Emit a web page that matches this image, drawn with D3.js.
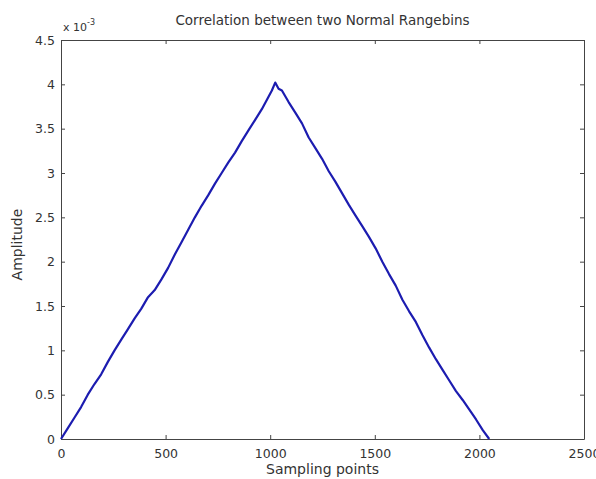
<!DOCTYPE html>
<html>
<head>
<meta charset="utf-8">
<script src="https://cdn.jsdelivr.net/npm/d3@7"></script>
<style>
  body { margin: 0; background: #fff; }
  text { font-family: "DejaVu Sans", Arial, sans-serif; fill: #333; }
</style>
</head>
<body>
<div id="chart"></div>
<script>
// sample index of the correlation lag
var samples = [0, 32, 64, 96, 128, 160, 192, 224, 256, 288, 320, 352, 384, 416, 448, 480,
  512, 544, 576, 608, 640, 672, 704, 736, 768, 800, 832, 864, 896, 928, 960, 992, 1008, 1024,
  1040, 1056, 1088, 1120, 1152, 1184, 1216, 1248, 1280, 1312, 1344, 1376, 1408, 1440, 1472,
  1504, 1536, 1568, 1600, 1632, 1664, 1696, 1728, 1760, 1792, 1824, 1856, 1888, 1920, 1952,
  1984, 2016, 2047];
// amplitude in units of 1e-3
var amplitude = [0.00, 0.12, 0.24, 0.36, 0.50, 0.62, 0.73, 0.87, 1.00, 1.12, 1.24, 1.36, 1.47, 1.60, 1.68, 1.80,
  1.93, 2.08, 2.22, 2.36, 2.50, 2.63, 2.75, 2.88, 3.00, 3.12, 3.23, 3.36, 3.48, 3.60, 3.72, 3.86, 3.93, 4.02,
  3.95, 3.93, 3.80, 3.68, 3.56, 3.40, 3.28, 3.16, 3.02, 2.90, 2.77, 2.64, 2.52, 2.40, 2.28,
  2.15, 2.00, 1.86, 1.73, 1.57, 1.44, 1.32, 1.17, 1.03, 0.90, 0.78, 0.66, 0.54, 0.44, 0.33,
  0.22, 0.10, 0.00];
var xTicks = [0, 500, 1000, 1500, 2000, 2500];
var yTicks = [0, 0.5, 1, 1.5, 2, 2.5, 3, 3.5, 4, 4.5];

var margin = { top: 40, right: 12, bottom: 40, left: 61 },
  width = 596 - margin.left - margin.right,
  height = 479 - margin.top - margin.bottom;

var svg = d3.select("#chart").append("svg")
  .attr("width", 596)
  .attr("height", 479);

var g = svg.append("g")
  .attr("transform", "translate(" + margin.left + "," + margin.top + ")");

var x = d3.scaleLinear().domain([0, 2500]).range([0, width]);
var y = d3.scaleLinear().domain([0, 4.5]).range([height, 0]);

// box with inward ticks on all four sides (matlab style)
function styleAxis(sel) {
  sel.select(".domain").attr("stroke", "#444");
  sel.selectAll(".tick line").attr("stroke", "#444");
  sel.selectAll("text").style("font-size", "12.5px").attr("fill", "#333");
}

g.append("g")
  .attr("transform", "translate(0," + height + ")")
  .call(d3.axisBottom(x).tickValues(xTicks).tickSize(-4).tickSizeOuter(0).tickPadding(10).tickFormat(d3.format("d")))
  .call(styleAxis);

g.append("g")
  .call(d3.axisTop(x).tickValues(xTicks).tickSize(-4).tickSizeOuter(0).tickFormat(""))
  .call(styleAxis);

g.append("g")
  .call(d3.axisLeft(y).tickValues(yTicks).tickSize(-4).tickSizeOuter(0).tickPadding(6).tickFormat(d => d))
  .call(styleAxis);

g.append("g")
  .attr("transform", "translate(" + width + ",0)")
  .call(d3.axisRight(y).tickValues(yTicks).tickSize(-4).tickSizeOuter(0).tickFormat(""))
  .call(styleAxis);

// the correlation curve
var line = d3.line()
  .x((d, i) => x(samples[i]))
  .y(d => y(d));

g.append("path")
  .datum(amplitude)
  .attr("fill", "none")
  .attr("stroke", "#1c1cb0")
  .attr("stroke-width", 2.2)
  .attr("stroke-linejoin", "round")
  .attr("d", line);

// exponent label
var expo = g.append("text")
  .attr("x", 2)
  .attr("y", -9)
  .style("font-size", "11px");
expo.append("tspan").text("x 10");
expo.append("tspan").attr("dy", -6).style("font-size", "8px").text("-3");

// title
g.append("text")
  .attr("x", width / 2)
  .attr("y", -15)
  .attr("text-anchor", "middle")
  .style("font-size", "13.5px")
  .text("Correlation between two Normal Rangebins");

// axis labels
g.append("text")
  .attr("x", width / 2)
  .attr("y", height + 35)
  .attr("text-anchor", "middle")
  .style("font-size", "14px")
  .text("Sampling points");

g.append("text")
  .attr("transform", "translate(" + (-39) + "," + (height / 2 + 5) + ") rotate(-90)")
  .attr("text-anchor", "middle")
  .style("font-size", "14px")
  .text("Amplitude");
</script>
</body>
</html>
